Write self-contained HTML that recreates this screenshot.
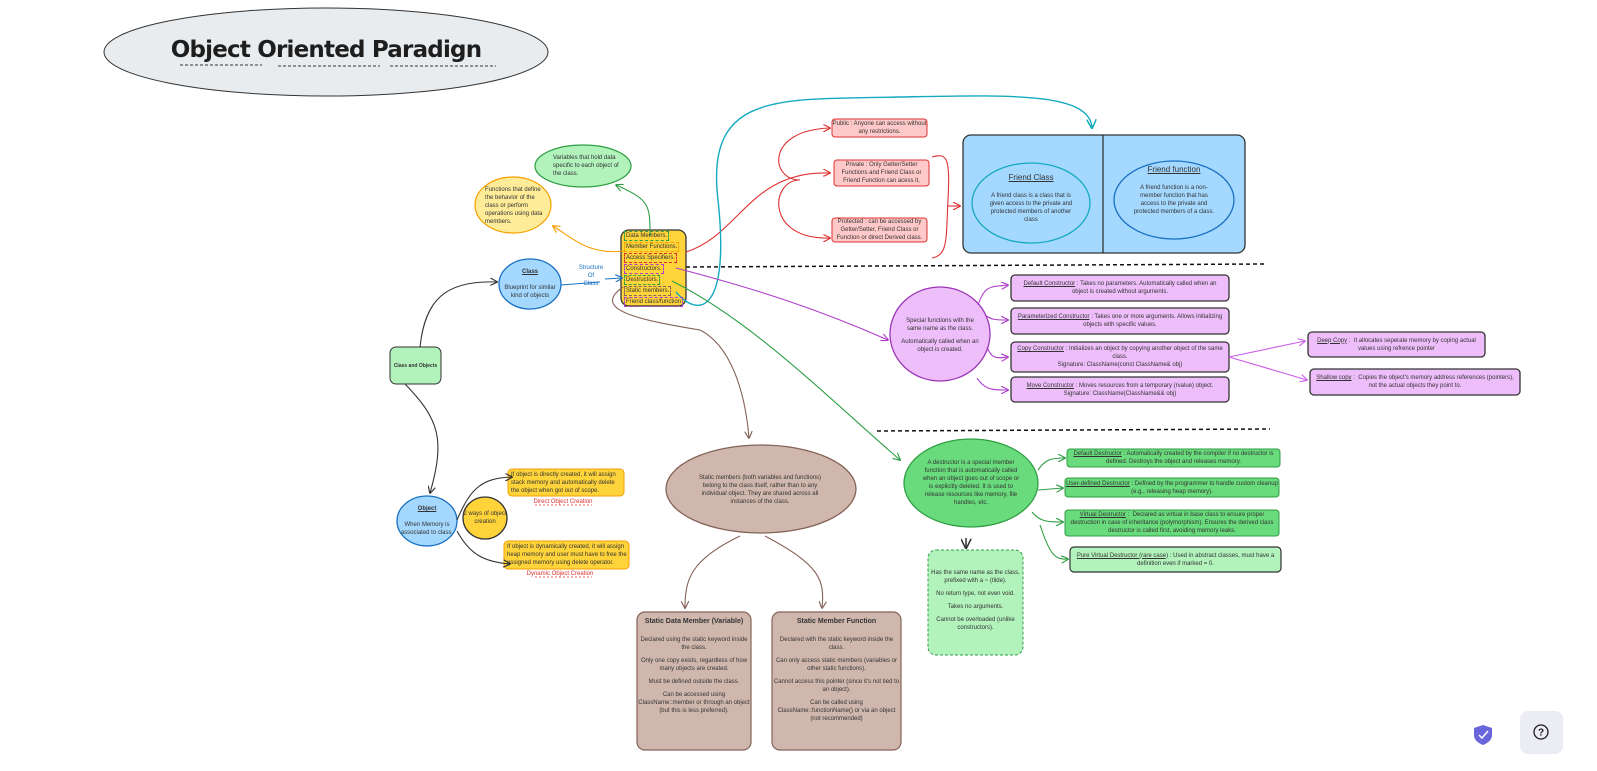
<!DOCTYPE html>
<html><head><meta charset="utf-8">
<style>
html,body{margin:0;padding:0;background:#fff;}
#c{position:relative;width:1597px;height:771px;overflow:hidden;font-family:"Liberation Sans",sans-serif;color:#333;}
.b{position:absolute;box-sizing:border-box;display:flex;flex-direction:column;align-items:center;justify-content:center;text-align:center;font-size:6px;line-height:8px;}
svg{position:absolute;left:0;top:0;}
u{text-decoration:underline;}
p{margin:0 0 5px 0;}
.it{display:inline-block;border:1px dashed;padding:0 1px;line-height:8px;margin-bottom:1px;}
</style></head><body><div id="c">
<svg width="1597" height="771" viewBox="0 0 1597 771">
<defs>
<marker id="a" viewBox="0 0 10 10" refX="9" refY="5" markerWidth="7" markerHeight="7" orient="auto-start-reverse"><path d="M0,0 L10,5 L0,10" fill="none" stroke="context-stroke" stroke-width="1.5"/></marker>
</defs>
<ellipse cx="326" cy="52" rx="222" ry="44" fill="#e9ecef" stroke="#333" stroke-width="1"/>
<g stroke="#333" stroke-dasharray="3,2" stroke-width="1"><line x1="180" y1="65" x2="262" y2="65"/><line x1="278" y1="66" x2="380" y2="66"/><line x1="390" y1="66" x2="496" y2="66"/></g>
<line x1="686" y1="267" x2="1265" y2="264" stroke="#111" stroke-width="1.5" stroke-dasharray="4,3"/>
<line x1="877" y1="431" x2="1270" y2="429" stroke="#111" stroke-width="1.5" stroke-dasharray="4,3"/>
<rect x="390" y="347" width="51" height="37" rx="6" fill="#b2f2bb" stroke="#333"/>
<ellipse cx="530" cy="284" rx="31" ry="25" fill="#a5d8ff" stroke="#1971c2" stroke-width="1.3"/>
<ellipse cx="427" cy="521" rx="30" ry="25" fill="#a5d8ff" stroke="#1971c2" stroke-width="1.3"/>
<ellipse cx="485" cy="518" rx="22" ry="21" fill="#ffd43b" stroke="#333" stroke-width="1.3"/>
<rect x="508" y="469" width="116" height="27" rx="4" fill="#ffd43b" stroke="#f59f00"/>
<rect x="504" y="541" width="125" height="28" rx="4" fill="#ffd43b" stroke="#f59f00"/>
<line x1="535" y1="505" x2="592" y2="505" stroke="#e03131" stroke-dasharray="2,2" stroke-width="0.8"/>
<line x1="535" y1="577" x2="592" y2="577" stroke="#e03131" stroke-dasharray="2,2" stroke-width="0.8"/>
<rect x="621" y="230" width="65" height="76" rx="8" fill="#ffd43b" stroke="#333" stroke-width="1.3"/>
<ellipse cx="583" cy="166" rx="48" ry="21" fill="#b2f2bb" stroke="#2f9e44" stroke-width="1.2"/>
<ellipse cx="513" cy="205" rx="38" ry="28" fill="#ffec99" stroke="#f59f00" stroke-width="1.2"/>
<rect x="832" y="119" width="95" height="18" rx="3" fill="#ffc9c9" stroke="#e03131"/>
<rect x="834" y="160" width="95" height="26" rx="3" fill="#ffc9c9" stroke="#e03131"/>
<rect x="832" y="218" width="95" height="24" rx="3" fill="#ffc9c9" stroke="#e03131"/>
<rect x="963" y="135" width="282" height="118" rx="8" fill="#a5d8ff" stroke="#333" stroke-width="1.3"/>
<line x1="1103" y1="135" x2="1103" y2="253" stroke="#333" stroke-width="1.3"/>
<ellipse cx="1031" cy="203" rx="59" ry="40" fill="#a5d8ff" stroke="#15aabf" stroke-width="1.3"/>
<ellipse cx="1174" cy="200" rx="60" ry="39" fill="#a5d8ff" stroke="#1971c2" stroke-width="1.3"/>
<ellipse cx="940" cy="334" rx="50" ry="47" fill="#eebefa" stroke="#9c36b5" stroke-width="1.3"/>
<g fill="#eebefa" stroke="#333" stroke-width="1.3">
<rect x="1011" y="275" width="218" height="26" rx="4"/>
<rect x="1011" y="308" width="218" height="26" rx="4"/>
<rect x="1011" y="342" width="218" height="30" rx="4"/>
<rect x="1011" y="377" width="218" height="25" rx="4"/>
<rect x="1308" y="332" width="177" height="25" rx="4"/>
<rect x="1310" y="369" width="210" height="26" rx="4"/>
</g>
<ellipse cx="971" cy="483" rx="67" ry="44" fill="#69db7c" stroke="#2f9e44" stroke-width="1.3"/>
<g fill="#69db7c" stroke="#2f9e44">
<rect x="1067" y="449" width="213" height="18" rx="3"/>
<rect x="1065" y="478" width="214" height="19" rx="3"/>
<rect x="1065" y="510" width="214" height="26" rx="3"/>
</g>
<rect x="1070" y="547" width="211" height="25" rx="4" fill="#b2f2bb" stroke="#333" stroke-width="1.2"/>
<rect x="928" y="550" width="95" height="105" rx="8" fill="#b2f2bb" stroke="#2f9e44" stroke-dasharray="3,2"/>
<ellipse cx="761" cy="489" rx="95" ry="44" fill="#d0b7ad" stroke="#846358" stroke-width="1.3"/>
<rect x="637" y="612" width="114" height="138" rx="8" fill="#d0b7ad" stroke="#846358" stroke-width="1.2"/>
<rect x="772" y="612" width="129" height="138" rx="8" fill="#d0b7ad" stroke="#846358" stroke-width="1.2"/>
<g fill="none" stroke-width="1.1">
<path d="M420,347 C425,300 445,280 497,282" stroke="#333" marker-end="url(#a)"/>
<path d="M405,384 C440,420 445,440 430,493" stroke="#333" marker-end="url(#a)"/>
<path d="M457,520 C470,490 480,478 512,477" stroke="#333" marker-end="url(#a)"/>
<path d="M457,531 C470,555 485,562 510,564" stroke="#333" marker-end="url(#a)"/>
<path d="M561,285 L600,282" stroke="#1971c2"/>
<path d="M605,279 L622,278" stroke="#1971c2" marker-end="url(#a)"/>
<path d="M650,236 C650,205 650,200 616,185" stroke="#2f9e44" marker-end="url(#a)"/>
<path d="M623,251 C590,255 575,240 553,226" stroke="#f59f00" marker-end="url(#a)"/>
<path d="M686,252 C740,235 750,170 830,173" stroke="#e03131" marker-end="url(#a)"/>
<path d="M800,180 C770,180 765,130 830,128" stroke="#e03131" marker-end="url(#a)"/>
<path d="M800,180 C770,180 765,240 830,238" stroke="#e03131" marker-end="url(#a)"/>
<path d="M932,157 C948,152 950,160 948,200 C946,240 948,255 932,258" stroke="#e03131"/>
<path d="M948,206 L960,206" stroke="#e03131" marker-end="url(#a)"/>
<path d="M676,292 C700,320 730,310 718,200 C705,90 780,100 900,97 C1010,95 1090,92 1092,128" stroke="#15aabf" stroke-width="1.4" marker-end="url(#a)"/>
<path d="M676,268 C760,290 820,310 888,340" stroke="#ae3ec9" marker-end="url(#a)"/>
<path d="M978,305 C985,285 990,287 1008,285" stroke="#ae3ec9" marker-end="url(#a)"/>
<path d="M985,315 C992,320 995,320 1008,320" stroke="#ae3ec9" marker-end="url(#a)"/>
<path d="M987,347 C992,360 997,358 1008,357" stroke="#ae3ec9" marker-end="url(#a)"/>
<path d="M977,378 C985,390 992,390 1008,390" stroke="#ae3ec9" marker-end="url(#a)"/>
<path d="M1229,357 L1305,341" stroke="#cc5de8" marker-end="url(#a)"/>
<path d="M1229,357 L1307,380" stroke="#cc5de8" marker-end="url(#a)"/>
<path d="M672,281 C750,320 820,390 900,460" stroke="#2f9e44" marker-end="url(#a)"/>
<path d="M1038,470 C1045,460 1050,458 1065,458" stroke="#2f9e44" marker-end="url(#a)"/>
<path d="M1038,490 L1063,488" stroke="#2f9e44" marker-end="url(#a)"/>
<path d="M1032,512 C1040,522 1048,522 1063,522" stroke="#2f9e44" marker-end="url(#a)"/>
<path d="M1040,525 C1050,555 1055,560 1068,559" stroke="#2f9e44" marker-end="url(#a)"/>
<path d="M966,538 L966,548" stroke="#333" stroke-width="1.5" marker-end="url(#a)"/>
<path d="M623,287 C590,310 640,320 700,330 C730,345 745,390 749,438" stroke="#846358" marker-end="url(#a)"/>
<path d="M740,536 C690,560 685,580 685,608" stroke="#846358" marker-end="url(#a)"/>
<path d="M765,536 C820,565 825,580 822,608" stroke="#846358" marker-end="url(#a)"/>
</g>
<path d="M1483,725 L1492,728 L1492,735 C1492,740 1488,743 1483,745 C1478,743 1474,740 1474,735 L1474,728 Z" fill="#6965db"/>
<path d="M1479,735 L1482,738 L1488,731" fill="none" stroke="#fff" stroke-width="1.5"/>
<rect x="1520" y="711" width="43" height="43" rx="8" fill="#ececf4"/>
<circle cx="1541" cy="732" r="7" fill="none" stroke="#1b1b1f" stroke-width="1.3"/>
<text x="1541" y="735.5" font-size="10" text-anchor="middle" font-family="Liberation Sans" font-weight="bold" fill="#1b1b1f">?</text>
</svg>

<div class="b" style="left:104px;top:28px;width:444px;height:44px;font-size:23px;font-weight:900;color:#1e1e1e;font-family:'DejaVu Sans','Liberation Sans',sans-serif;letter-spacing:-0.8px;">Object Oriented Paradign</div>
<div class="b" style="left:390px;top:347px;width:51px;height:37px;font-size:5px;font-weight:bold;">Class and Objects</div>
<div class="b" style="left:499px;top:260px;width:62px;height:48px;"><b><u>Class</u></b><br>Blueprint for similar kind of objects</div>
<div class="b" style="left:397px;top:497px;width:60px;height:48px;"><b><u>Object</u></b><br>When Memory is associated to class.</div>
<div class="b" style="left:463px;top:497px;width:44px;height:42px;">2 ways of object creation</div>
<div class="b" style="left:575px;top:262px;width:32px;height:28px;color:#1971c2;">Structure<br>Of<br>Class</div>
<div class="b" style="left:508px;top:469px;width:116px;height:27px;align-items:flex-start;text-align:left;padding-left:3px;">If object is directly created, it will assign stack memory and automatically delete the object when got out of scope.</div>
<div class="b" style="left:510px;top:497px;width:106px;height:10px;color:#e03131;">Direct Object Creation</div>
<div class="b" style="left:504px;top:541px;width:125px;height:28px;align-items:flex-start;text-align:left;padding-left:3px;">If object is dynamically created, it will assign heap memory and user must have to free the assigned memory using delete operator.</div>
<div class="b" style="left:510px;top:569px;width:100px;height:10px;color:#e03131;">Dynamic Object Creation</div>
<div class="b" style="left:624px;top:236px;width:64px;height:66px;align-items:flex-start;text-align:left;font-size:6px;">
<span class="it" style="border-color:#2f9e44">Data Members.</span><span class="it" style="border-color:#f59f00">Member Functions.</span><span class="it" style="border-color:#e03131">Access Specifiers.</span><span class="it" style="border-color:#ae3ec9">Constructors.</span><span class="it" style="border-color:#2f9e44">Destructors.</span><span class="it" style="border-color:#846358">Static members.</span><span class="it" style="border-color:#ae3ec9">Friend class/function</span></div>
<div class="b" style="left:545px;top:150px;width:80px;height:32px;align-items:flex-start;text-align:left;padding-left:8px;">Variables that hold data specific to each object of the class.</div>
<div class="b" style="left:485px;top:184px;width:60px;height:44px;align-items:flex-start;text-align:left;">Functions that define the behavior of the class or perform operations using data members.</div>
<div class="b" style="left:832px;top:119px;width:95px;height:18px;">Public : Anyone can access without any restrictions.</div>
<div class="b" style="left:834px;top:160px;width:95px;height:26px;">Private : Only Getter/Setter Functions and Friend Class or Friend Function can acess it,</div>
<div class="b" style="left:832px;top:218px;width:95px;height:24px;">Protected : can be accessed by Getter/Setter, Friend Class or Function or direct Derived class.</div>
<div class="b" style="left:985px;top:168px;width:92px;height:60px;"><span style="font-size:8px;line-height:12px;text-decoration:underline;">Friend Class</span><br>A friend class is a class that is given access to the private and protected members of another class</div>
<div class="b" style="left:1130px;top:160px;width:88px;height:60px;"><span style="font-size:8px;line-height:12px;text-decoration:underline;">Friend function</span><br>A friend function is a non-member function that has access to the private and protected members of a class.</div>
<div class="b" style="left:900px;top:300px;width:80px;height:70px;"><p>Special functions with the same name as the class.</p>Automatically called when an object is created.</div>
<div class="b" style="left:1011px;top:275px;width:218px;height:26px;padding:0 4px;"><span><u>Default Constructor</u> : Takes no parameters. Automatically called when an object is created without arguments.</span></div>
<div class="b" style="left:1011px;top:308px;width:218px;height:26px;padding:0 4px;"><span><u>Parameterized Constructor</u> : Takes one or more arguments. Allows initializing objects with specific values.</span></div>
<div class="b" style="left:1011px;top:342px;width:218px;height:30px;padding:0 4px;"><span><u>Copy Constructor</u> : Initializes an object by copying another object of the same class.<br>Signature: ClassName(const ClassName&amp; obj)</span></div>
<div class="b" style="left:1011px;top:377px;width:218px;height:25px;padding:0 4px;"><span><u>Move Constructor</u> : Moves resources from a temporary (rvalue) object.<br>Signature: ClassName(ClassName&amp;&amp; obj)</span></div>
<div class="b" style="left:1308px;top:332px;width:177px;height:25px;padding:0 4px;"><span><u>Deep Copy</u> :&nbsp; It allocates seperate memory by coping actual values using refrence pointer</span></div>
<div class="b" style="left:1310px;top:369px;width:210px;height:26px;padding:0 4px;"><span><u>Shallow copy</u> :&nbsp; Copies the object's memory address references (pointers), not the actual objects they point to.</span></div>
<div class="b" style="left:922px;top:455px;width:98px;height:56px;">A destructor is a special member function that is automatically called when an object goes out of scope or is explicitly deleted. It is used to release resources like memory, file handles, etc.</div>
<div class="b" style="left:1067px;top:449px;width:213px;height:18px;"><span><u>Default Destructor</u> : Automatically created by the compiler if no destructor is defined. Destroys the object and releases memory.</span></div>
<div class="b" style="left:1065px;top:478px;width:214px;height:19px;"><span><u>User-defined Destructor</u> : Defined by the programmer to handle custom cleanup (e.g., releasing heap memory).</span></div>
<div class="b" style="left:1065px;top:510px;width:214px;height:26px;"><span><u>Virtual Destructor</u> :&nbsp; Declared as virtual in base class to ensure proper destruction in case of inheritance (polymorphism). Ensures the derived class destructor is called first, avoiding memory leaks.</span></div>
<div class="b" style="left:1070px;top:547px;width:211px;height:25px;padding:0 4px;"><span><u>Pure Virtual Destructor (rare case)</u> : Used in abstract classes, must have a definition even if marked = 0.</span></div>
<div class="b" style="left:928px;top:558px;width:95px;height:85px;"><p>Has the same name as the class, prefixed with a ~ (tilde).</p><p>No return type, not even void.</p><p>Takes no arguments.</p>Cannot be overloaded (unlike constructors).</div>
<div class="b" style="left:695px;top:470px;width:130px;height:40px;">Static members (both variables and functions) belong to the class itself, rather than to any individual object. They are shared across all instances of the class.</div>
<div class="b" style="left:637px;top:612px;width:114px;height:120px;justify-content:flex-start;padding-top:5px;"><b style="font-size:7px;line-height:10px;margin-bottom:9px;">Static Data Member (Variable)</b><p>Declared using the static keyword inside the class.</p><p>Only one copy exists, regardless of how many objects are created.</p><p>Must be defined outside the class.</p>Can be accessed using ClassName::member or through an object (but this is less preferred).</div>
<div class="b" style="left:772px;top:612px;width:129px;height:120px;justify-content:flex-start;padding-top:5px;"><b style="font-size:7px;line-height:10px;margin-bottom:9px;">Static Member Function</b><p>Declared with the static keyword inside the class.</p><p>Can only access static members (variables or other static functions).</p><p>Cannot access this pointer (since it's not tied to an object).</p>Can be called using ClassName::functionName() or via an object (not recommended)</div>
</div></body></html>
